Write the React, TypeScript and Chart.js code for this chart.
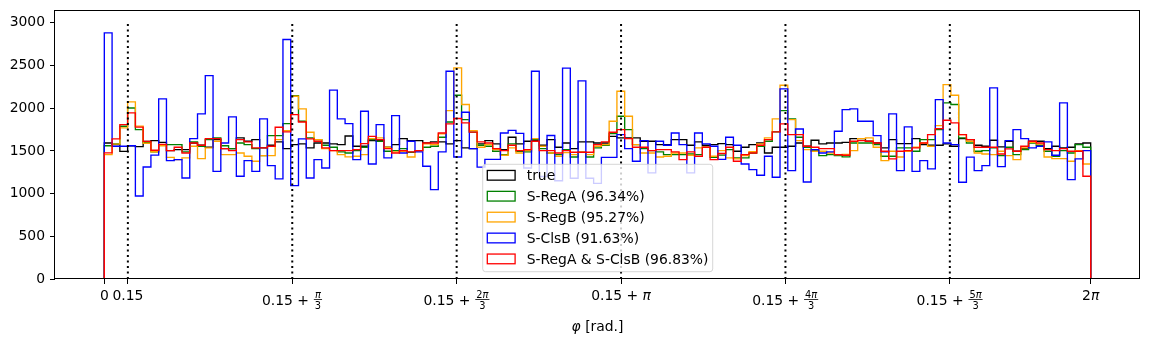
import React, { useEffect, useRef } from "react";
import { Chart, registerables } from "chart.js";

Chart.register(...registerables);

const PI = Math.PI;
const PHI_MAX = 2 * PI;
const BIN_COUNT = 127;
const binEdges: number[] = Array.from({ length: BIN_COUNT + 1 }, (_, i) => (i * PHI_MAX) / BIN_COUNT);

const trueCounts = [
  1593, 1574, 1495, 1560, 1550, 1610, 1621, 1600, 1504, 1515,
  1515, 1593, 1566, 1543, 1632, 1527, 1527, 1652, 1613, 1632,
  1535, 1566, 1605, 1527, 1574, 1582, 1535, 1593, 1593, 1582,
  1574, 1675, 1554, 1554, 1621, 1621, 1543, 1574, 1644, 1621,
  1621, 1593, 1605, 1605, 1582, 1621, 1535, 1527, 1582, 1621,
  1582, 1515, 1660, 1582, 1613, 1621, 1566, 1632, 1543, 1593,
  1527, 1605, 1605, 1593, 1593, 1671, 1652, 1652, 1652, 1613,
  1613, 1574, 1574, 1632, 1632, 1566, 1605, 1566, 1574, 1585,
  1574, 1496, 1543, 1574, 1593, 1476, 1543, 1543, 1554, 1593,
  1554, 1625, 1582, 1593, 1593, 1600, 1644, 1644, 1613, 1593,
  1535, 1632, 1586, 1586, 1644, 1574, 1566, 1566, 1582, 1554,
  1644, 1632, 1566, 1554, 1625, 1547, 1613, 1496, 1527, 1613,
  1613, 1527, 1554, 1535, 1543, 1582, 1593,
];

const sRegACounts = [
  1560, 1582, 1789, 2003, 1750, 1600, 1488, 1566, 1574, 1574,
  1488, 1605, 1554, 1632, 1652, 1560, 1527, 1593, 1574, 1527,
  1445, 1679, 1679, 1820, 2148, 1847, 1652, 1632, 1566, 1543,
  1488, 1476, 1503, 1543, 1632, 1613, 1496, 1503, 1527, 1484,
  1503, 1543, 1554, 1660, 1839, 2152, 1867, 1720, 1566, 1554,
  1496, 1457, 1582, 1496, 1488, 1632, 1527, 1476, 1457, 1515,
  1429, 1484, 1429, 1535, 1566, 1703, 1906, 1750, 1574, 1527,
  1503, 1488, 1457, 1457, 1457, 1464, 1457, 1543, 1425, 1450,
  1515, 1418, 1418, 1476, 1554, 1613, 1722, 1972, 1875, 1660,
  1543, 1503, 1445, 1457, 1445, 1430, 1593, 1593, 1593, 1574,
  1437, 1437, 1535, 1535, 1496, 1632, 1632, 1750, 2062, 2043,
  1652, 1593, 1496, 1503, 1535, 1445, 1543, 1457, 1515, 1593,
  1566, 1496, 1437, 1503, 1476, 1574, 1543,
];

const sRegBCounts = [
  1457, 1580, 1769, 2074, 1790, 1590, 1490, 1560, 1425, 1398,
  1418, 1554, 1410, 1535, 1613, 1457, 1457, 1476, 1437, 1379,
  1445, 1445, 1632, 1738, 2140, 1992, 1718, 1632, 1527, 1503,
  1457, 1430, 1437, 1457, 1644, 1652, 1543, 1488, 1496, 1429,
  1503, 1582, 1574, 1699, 1972, 2472, 2043, 1738, 1543, 1574,
  1515, 1449, 1535, 1476, 1503, 1644, 1554, 1476, 1437, 1480,
  1457, 1484, 1457, 1554, 1574, 1847, 2199, 1906, 1574, 1476,
  1476, 1429, 1437, 1476, 1476, 1449, 1535, 1543, 1437, 1503,
  1418, 1406, 1445, 1490, 1582, 1652, 1875, 2269, 1867, 1621,
  1515, 1496, 1496, 1476, 1457, 1460, 1503, 1644, 1652, 1543,
  1386, 1496, 1429, 1496, 1543, 1593, 1554, 1796, 2277, 2152,
  1691, 1613, 1476, 1464, 1457, 1496, 1445, 1398, 1535, 1600,
  1580, 1429, 1410, 1410, 1379, 1503, 1347,
];

const sClsBCounts = [
  2882, 1554, 1554, 1560, 972, 1312, 1450, 2109, 1386, 1398,
  1183, 1644, 1933, 2382, 1261, 1593, 1898, 1203, 1386, 1261,
  1875, 1328, 1172, 2804, 1093, 1640, 1183, 1398, 1300, 2211,
  1875, 1820, 1398, 1964, 1347, 1808, 1418, 1914, 1476, 1613,
  1488, 1320, 1047, 1488, 2433, 1429, 1953, 1527, 1310, 1400,
  1400, 1710, 1740, 1705, 1300, 2433, 1200, 1680, 1150, 2470,
  1180, 2320, 1180, 1120, 1425, 1425, 1691, 1527, 1379, 1621,
  1242, 1613, 1566, 1710, 1574, 1242, 1710, 1582, 1554, 1400,
  1660, 1566, 1347, 1281, 1215, 1437, 1191, 2226, 1269, 1757,
  1136, 1515, 1476, 1488, 1730, 1984, 1992, 1847, 1847, 1679,
  1488, 1933, 1269, 1781, 1261, 1386, 1289, 2101, 1593, 1574,
  1133, 1427, 1269, 1328, 2238, 1316, 1621, 1750, 1644, 1535,
  1554, 1605, 1449, 2062, 1164, 1406, 1503,
];

const sRegAClsBCounts = [
  1477, 1640, 1808, 1945, 1779, 1612, 1508, 1576, 1504, 1543,
  1476, 1593, 1566, 1644, 1644, 1527, 1503, 1632, 1605, 1535,
  1535, 1554, 1777, 1722, 1925, 1839, 1640, 1613, 1535, 1503,
  1503, 1503, 1515, 1586, 1671, 1632, 1527, 1476, 1503, 1488,
  1503, 1593, 1593, 1710, 1816, 1879, 1828, 1720, 1605, 1593,
  1527, 1503, 1566, 1503, 1515, 1613, 1503, 1503, 1476, 1503,
  1484, 1484, 1484, 1574, 1605, 1718, 1750, 1644, 1543, 1543,
  1503, 1515, 1515, 1488, 1398, 1488, 1437, 1543, 1398, 1470,
  1543, 1379, 1457, 1476, 1566, 1632, 1722, 1816, 1691, 1691,
  1554, 1543, 1527, 1527, 1457, 1449, 1613, 1621, 1613, 1593,
  1496, 1406, 1496, 1503, 1535, 1593, 1691, 1761, 1859, 1828,
  1691, 1632, 1543, 1543, 1543, 1464, 1523, 1496, 1554, 1613,
  1593, 1515, 1503, 1527, 1496, 1496, 1203,
];

const seriesNames = ["true", "S-RegA (96.34%)", "S-RegB (95.27%)", "S-ClsB (91.63%)", "S-RegA & S-ClsB (96.83%)"];
const seriesValues = [trueCounts, sRegACounts, sRegBCounts, sClsBCounts, sRegAClsBCounts];
const seriesColors = ["#000000", "#008000", "#ffa500", "#0000ff", "#ff0000"];

const sectorLines = [0.15, 0.15 + PI / 3, 0.15 + (2 * PI) / 3, 0.15 + PI, 0.15 + (4 * PI) / 3, 0.15 + (5 * PI) / 3];
const SECTOR_LINE_TOP = 3000;

const yTickValues = [0, 500, 1000, 1500, 2000, 2500, 3000];
const X_MIN = -0.05 * PHI_MAX;
const X_MAX = 1.05 * PHI_MAX;
const Y_MAX = 3150;

type Seg = { t: string; it?: boolean };
type TickLabel = { value: number; main: Seg[]; num?: Seg[]; den?: Seg[] };

const xTickLabels: TickLabel[] = [
  { value: 0, main: [{ t: "0" }] },
  { value: 0.15, main: [{ t: "0.15" }] },
  { value: 0.15 + PI / 3, main: [{ t: "0.15 + " }], num: [{ t: "π", it: true }], den: [{ t: "3" }] },
  { value: 0.15 + (2 * PI) / 3, main: [{ t: "0.15 + " }], num: [{ t: "2" }, { t: "π", it: true }], den: [{ t: "3" }] },
  { value: 0.15 + PI, main: [{ t: "0.15 + " }, { t: "π", it: true }] },
  { value: 0.15 + (4 * PI) / 3, main: [{ t: "0.15 + " }], num: [{ t: "4" }, { t: "π", it: true }], den: [{ t: "3" }] },
  { value: 0.15 + (5 * PI) / 3, main: [{ t: "0.15 + " }], num: [{ t: "5" }, { t: "π", it: true }], den: [{ t: "3" }] },
  { value: PHI_MAX, main: [{ t: "2" }, { t: "π", it: true }] },
];
const xTickValues = xTickLabels.map((l) => l.value);

const axisTitle: Seg[] = [{ t: "φ", it: true }, { t: " [rad.]" }];

const FAMILY = "'DejaVu Sans', 'Liberation Sans', sans-serif";
const BASE_SIZE = 13.9;
const FRAC_SIZE = 9.8;

function fontStr(size: number, italic?: boolean) {
  return `${italic ? "italic " : ""}${size}px ${FAMILY}`;
}

function segsWidth(ctx: CanvasRenderingContext2D, segs: Seg[], size: number) {
  let w = 0;
  for (const s of segs) {
    ctx.font = fontStr(size, s.it);
    w += ctx.measureText(s.t).width;
  }
  return w;
}

function drawSegs(ctx: CanvasRenderingContext2D, segs: Seg[], x: number, y: number, size: number) {
  ctx.textAlign = "left";
  ctx.textBaseline = "alphabetic";
  let cx = x;
  for (const s of segs) {
    ctx.font = fontStr(size, s.it);
    ctx.fillText(s.t, cx, y);
    cx += ctx.measureText(s.t).width;
  }
}

function stepPoints(values: number[]) {
  const pts: { x: number; y: number }[] = [{ x: binEdges[0], y: 0 }];
  values.forEach((v, i) => {
    pts.push({ x: binEdges[i], y: v });
    pts.push({ x: binEdges[i + 1], y: v });
  });
  pts.push({ x: binEdges[values.length], y: 0 });
  return pts;
}

const LEGEND_BOX = { x: 482.7, y: 164.3, w: 230, h: 107.4, r: 2.8 };
const LEGEND_HANDLE = { x: 487.3, w: 27.8, h: 9.7 };
const LEGEND_TEXT_X = 526.7;
const LEGEND_ROW0 = 175.3;
const LEGEND_ROW_STEP = 20.9;

function roundRectPath(ctx: CanvasRenderingContext2D, x: number, y: number, w: number, h: number, r: number) {
  ctx.beginPath();
  ctx.moveTo(x + r, y);
  ctx.lineTo(x + w - r, y);
  ctx.quadraticCurveTo(x + w, y, x + w, y + r);
  ctx.lineTo(x + w, y + h - r);
  ctx.quadraticCurveTo(x + w, y + h, x + w - r, y + h);
  ctx.lineTo(x + r, y + h);
  ctx.quadraticCurveTo(x, y + h, x, y + h - r);
  ctx.lineTo(x, y + r);
  ctx.quadraticCurveTo(x, y, x + r, y);
  ctx.closePath();
}

const decorPlugin = {
  id: "mplDecor",
  afterDraw(chart: any) {
    const ctx: CanvasRenderingContext2D = chart.ctx;
    const a = chart.chartArea;
    const xs = chart.scales.x;
    ctx.save();

    // frame (spines)
    ctx.strokeStyle = "#000";
    ctx.lineWidth = 1;
    const l = Math.round(a.left) - 0.5;
    const t = Math.round(a.top) + 0.5;
    const r = Math.round(a.right) - 0.5;
    const b = Math.round(a.bottom) - 0.5;
    ctx.strokeRect(l, t, r - l, b - t);

    // x tick labels
    ctx.fillStyle = "#000";
    for (const lbl of xTickLabels) {
      const px = xs.getPixelForValue(lbl.value);
      if (lbl.num && lbl.den) {
        const mainW = segsWidth(ctx, lbl.main, BASE_SIZE);
        const numW = segsWidth(ctx, lbl.num, FRAC_SIZE);
        const denW = segsWidth(ctx, lbl.den, FRAC_SIZE);
        const barW = Math.max(numW, denW) + 2;
        const total = mainW + barW + 1;
        const x0 = px - total / 2;
        const baseY = 304.5;
        drawSegs(ctx, lbl.main, x0, baseY, BASE_SIZE);
        const fx = x0 + mainW + 0.5;
        const barY = 299.5;
        ctx.lineWidth = 0.8;
        ctx.beginPath();
        ctx.moveTo(fx, barY);
        ctx.lineTo(fx + barW, barY);
        ctx.stroke();
        drawSegs(ctx, lbl.num, fx + (barW - numW) / 2, barY - 1.8, FRAC_SIZE);
        drawSegs(ctx, lbl.den, fx + (barW - denW) / 2, barY + 9.3, FRAC_SIZE);
      } else {
        const w = segsWidth(ctx, lbl.main, BASE_SIZE);
        drawSegs(ctx, lbl.main, px - w / 2, 299.8, BASE_SIZE);
      }
    }

    // x axis title
    const tw = segsWidth(ctx, axisTitle, BASE_SIZE);
    drawSegs(ctx, axisTitle, (a.left + a.right) / 2 - tw / 2, 331, BASE_SIZE);

    // legend
    ctx.globalAlpha = 0.8;
    roundRectPath(ctx, LEGEND_BOX.x, LEGEND_BOX.y, LEGEND_BOX.w, LEGEND_BOX.h, LEGEND_BOX.r);
    ctx.fillStyle = "#ffffff";
    ctx.fill();
    ctx.strokeStyle = "#cccccc";
    ctx.lineWidth = 1;
    ctx.stroke();
    ctx.globalAlpha = 1;
    seriesNames.forEach((name, i) => {
      const cy = LEGEND_ROW0 + i * LEGEND_ROW_STEP;
      ctx.strokeStyle = seriesColors[i];
      ctx.lineWidth = 1.3;
      ctx.strokeRect(LEGEND_HANDLE.x, cy - LEGEND_HANDLE.h / 2, LEGEND_HANDLE.w, LEGEND_HANDLE.h);
      ctx.fillStyle = "#000";
      drawSegs(ctx, [{ t: name }], LEGEND_TEXT_X, cy + 4.8, BASE_SIZE);
    });

    ctx.restore();
  },
};

export default function App() {
  const canvasRef = useRef<HTMLCanvasElement | null>(null);

  useEffect(() => {
    const canvas = canvasRef.current;
    if (!canvas) return;

    const histDatasets = seriesValues.map((vals, i) => ({
      label: seriesNames[i],
      data: stepPoints(vals),
      borderColor: seriesColors[i],
      backgroundColor: "transparent",
      borderWidth: 1.35,
      pointRadius: 0,
      fill: false,
      tension: 0,
      borderJoinStyle: "miter" as const,
      order: seriesValues.length - i + 1,
    }));

    const sectorDatasets = sectorLines.map((v) => ({
      label: "sector",
      data: [
        { x: v, y: 0 },
        { x: v, y: SECTOR_LINE_TOP },
      ],
      borderColor: "#000000",
      borderWidth: 2,
      borderDash: [2.1, 3.4],
      pointRadius: 0,
      fill: false,
      order: 0,
    }));

    const chart = new Chart(canvas, {
      type: "line",
      data: { datasets: [...histDatasets, ...sectorDatasets] as any },
      options: {
        animation: false,
        responsive: false,
        devicePixelRatio: 1,
        events: [],
        layout: { autoPadding: false, padding: { top: 10, right: 9, bottom: 0, left: 0 } },
        plugins: {
          legend: { display: false },
          tooltip: { enabled: false },
        },
        scales: {
          x: {
            type: "linear",
            min: X_MIN,
            max: X_MAX,
            afterBuildTicks: (scale: any) => {
              scale.ticks = xTickValues.map((v) => ({ value: v }));
            },
            afterFit: (scale: any) => {
              scale.height = 68;
              scale.paddingLeft = 0;
              scale.paddingRight = 0;
            },
            ticks: { display: false, autoSkip: false },
            grid: {
              drawOnChartArea: false,
              drawTicks: true,
              tickLength: 5,
              color: "#000",
              lineWidth: 1,
            },
            border: { display: false },
          },
          y: {
            type: "linear",
            min: 0,
            max: Y_MAX,
            afterBuildTicks: (scale: any) => {
              scale.ticks = yTickValues.map((v) => ({ value: v }));
            },
            afterFit: (scale: any) => {
              scale.width = 55;
              scale.paddingTop = 0;
              scale.paddingBottom = 0;
            },
            ticks: {
              autoSkip: false,
              color: "#000",
              padding: 5,
              font: { family: FAMILY, size: BASE_SIZE },
              callback: (v: any) => String(v),
            },
            grid: {
              drawOnChartArea: false,
              drawTicks: true,
              tickLength: 5,
              color: "#000",
              lineWidth: 1,
            },
            border: { display: false },
          },
        },
      },
      plugins: [decorPlugin],
    });

    return () => chart.destroy();
  }, []);

  return (
    <div style={{ position: "fixed", left: 0, top: 0, width: 1149, height: 347, background: "#ffffff" }}>
      <canvas ref={canvasRef} width={1149} height={347} style={{ display: "block", width: 1149, height: 347 }} />
    </div>
  );
}
